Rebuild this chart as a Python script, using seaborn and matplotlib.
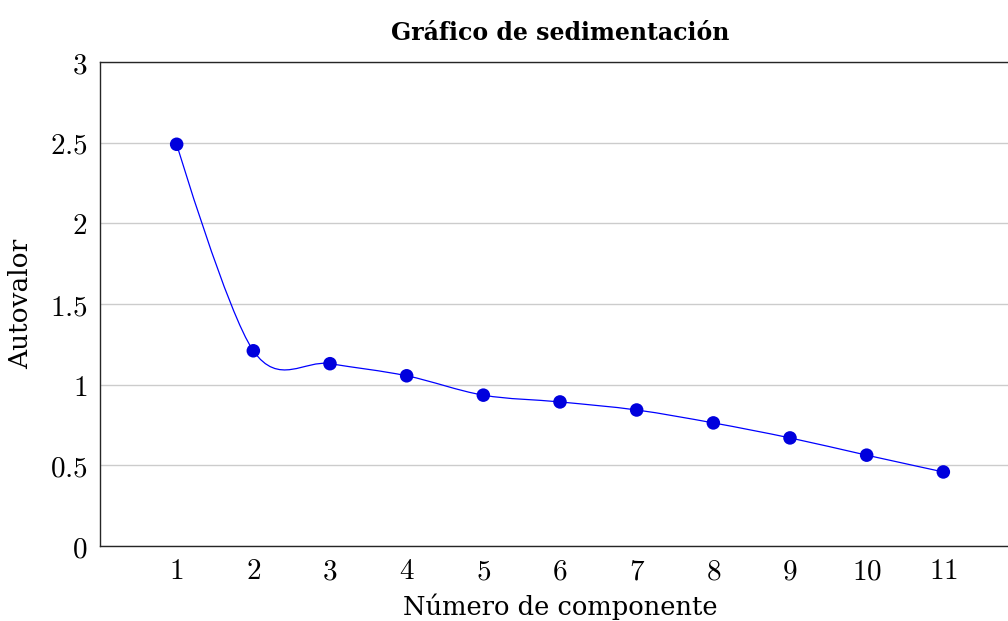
import matplotlib
matplotlib.use("Agg")
import matplotlib.pyplot as plt
from matplotlib.path import Path
from matplotlib.patches import PathPatch
from matplotlib.ticker import FuncFormatter
import numpy as np
import pandas as pd
import seaborn as sns

# Data
componentes = [1, 2, 3, 4, 5, 6, 7, 8, 9, 10, 11]
autovalores = [2.49, 1.21, 1.13, 1.055, 0.935, 0.893, 0.843, 0.763, 0.670, 0.563, 0.459]

title = "Gráfico de sedimentación"
xlabel = "Número de componente"
ylabel = "Autovalor"

sns.set_theme(style="whitegrid")
plt.rcParams["font.family"] = ["DejaVu Serif"]
plt.rcParams["mathtext.fontset"] = "cm"
plt.rcParams["text.color"] = "black"
plt.rcParams["axes.labelcolor"] = "black"

df = pd.DataFrame({"comp": componentes, "val": autovalores})

fig = plt.figure(figsize=(10.08, 6.21), dpi=100)
# axis runs to x=12, a little past the right edge of the picture
ax = fig.add_axes([100 / 1008, 75 / 621, 920 / 1008, 484 / 621])
ax.set_facecolor("white")


def smooth_path(xs, ys):
    # cubic Bezier through the points (pgfplots-like "smooth")
    pts = np.column_stack([xs, ys]).astype(float)
    n = len(pts)
    verts = [pts[0]]
    codes = [Path.MOVETO]
    for i in range(n - 1):
        p0 = pts[i - 1] if i > 0 else None
        p1, p2 = pts[i], pts[i + 1]
        p3 = pts[i + 2] if i + 2 < n else None
        c1 = p1 + (p2 - p0) / 6 if p0 is not None else p1
        c2 = p2 - (p3 - p1) / 6 if p3 is not None else p2
        verts += [c1, c2, p2]
        codes += [Path.CURVE4] * 3
    return Path(verts, codes)


ax.add_patch(PathPatch(smooth_path(componentes, autovalores), facecolor="none",
                       edgecolor="#0000ff", linewidth=0.9, zorder=3))
sns.scatterplot(data=df, x="comp", y="val", ax=ax, color="#0000dd", s=95,
                edgecolor="none", zorder=4, legend=False)

ax.set_xlim(0, 12)
ax.set_ylim(0, 3)
ax.set_xticks(componentes)
ax.set_yticks([0, 0.5, 1, 1.5, 2, 2.5, 3])
ax.xaxis.set_major_formatter(FuncFormatter(lambda v, p: f"${v:g}$"))
ax.yaxis.set_major_formatter(FuncFormatter(lambda v, p: f"${v:g}$"))
ax.tick_params(axis="both", length=0, labelsize=21, colors="black")
ax.tick_params(axis="y", pad=9)
ax.tick_params(axis="x", pad=8)

ax.grid(axis="x", visible=False)
ax.grid(axis="y", color="#cccccc", linewidth=1.0)
for side in ["left", "bottom", "top"]:
    ax.spines[side].set_visible(True)
    ax.spines[side].set_color("#262626")
    ax.spines[side].set_linewidth(1.0)
ax.spines["right"].set_visible(False)

ax.set_title(title, fontsize=17, fontweight="bold", pad=16, color="black")
ax.set_xlabel(xlabel, fontsize=18.5, labelpad=6)
ax.set_ylabel(ylabel, fontsize=19, labelpad=12)

fig.savefig("out.png", dpi=100)
